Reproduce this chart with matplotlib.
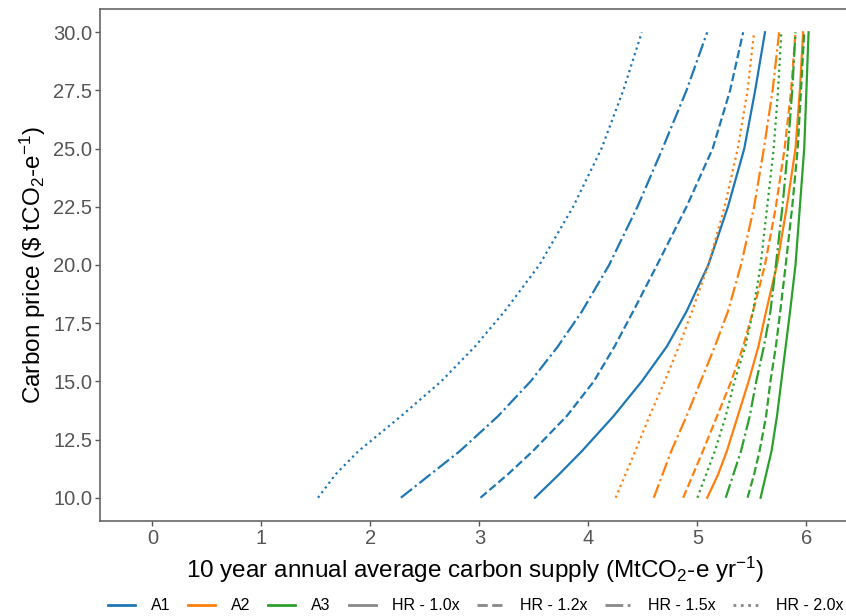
import matplotlib
matplotlib.use('Agg')
import matplotlib.pyplot as plt
from matplotlib.lines import Line2D

# carbon price levels ($ / tCO2-e)
price = [10, 11, 12, 13.5, 15, 16.5, 18, 20, 22.5, 25, 27.5, 30]

# 10 year annual average supply (MtCO2-e / yr)
a1_hr10 = [3.51, 3.73, 3.94, 4.23, 4.49, 4.72, 4.90, 5.10, 5.28, 5.43, 5.53, 5.62]
a1_hr12 = [3.01, 3.26, 3.49, 3.80, 4.05, 4.24, 4.41, 4.63, 4.90, 5.14, 5.30, 5.42]
a1_hr15 = [2.28, 2.55, 2.82, 3.17, 3.47, 3.72, 3.94, 4.19, 4.45, 4.68, 4.90, 5.09]
a1_hr20 = [1.52, 1.68, 1.89, 2.28, 2.65, 2.96, 3.23, 3.55, 3.86, 4.12, 4.32, 4.49]

a2_hr10 = [5.09, 5.19, 5.27, 5.37, 5.47, 5.56, 5.63, 5.73, 5.82, 5.90, 5.94, 5.97]
a2_hr12 = [4.87, 4.96, 5.05, 5.18, 5.31, 5.42, 5.51, 5.62, 5.72, 5.80, 5.86, 5.90]
a2_hr15 = [4.60, 4.68, 4.76, 4.90, 5.03, 5.16, 5.28, 5.40, 5.52, 5.61, 5.69, 5.75]
a2_hr20 = [4.25, 4.34, 4.43, 4.56, 4.70, 4.83, 4.95, 5.10, 5.25, 5.37, 5.46, 5.52]

a3_hr10 = [5.58, 5.63, 5.68, 5.73, 5.77, 5.81, 5.85, 5.90, 5.94, 5.98, 6.00, 6.02]
a3_hr12 = [5.46, 5.52, 5.57, 5.63, 5.67, 5.72, 5.76, 5.81, 5.87, 5.92, 5.95, 5.98]
a3_hr15 = [5.26, 5.33, 5.40, 5.48, 5.54, 5.61, 5.67, 5.72, 5.78, 5.83, 5.87, 5.90]
a3_hr20 = [5.00, 5.08, 5.16, 5.26, 5.34, 5.44, 5.51, 5.58, 5.64, 5.70, 5.74, 5.77]

areas = ['A1', 'A2', 'A3']
hr_labels = ['HR - 1.0x', 'HR - 1.2x', 'HR - 1.5x', 'HR - 2.0x']

colors = {'A1': '#1f77b4', 'A2': '#ff7f0e', 'A3': '#2ca02c'}
styles = ['-', '--', '-.', ':']

supply = {
    'A1': [a1_hr10, a1_hr12, a1_hr15, a1_hr20],
    'A2': [a2_hr10, a2_hr12, a2_hr15, a2_hr20],
    'A3': [a3_hr10, a3_hr12, a3_hr15, a3_hr20],
}

plt.rcParams['font.family'] = ['Liberation Sans', 'DejaVu Sans']
plt.rcParams['mathtext.fontset'] = 'custom'
plt.rcParams['mathtext.rm'] = 'Liberation Sans'
plt.rcParams['mathtext.it'] = 'Liberation Sans'

fig = plt.figure(figsize=(8.46, 6.16), dpi=100)
ax = fig.add_axes([100/846, 95/616, 750/846, 512/616])

for a in areas:
    for x, ls in zip(supply[a], styles):
        ax.plot(x, price, color=colors[a], ls=ls, lw=1.6)

ax.set_xlim(-0.48, 6.40)
ax.set_ylim(9, 31)
ax.set_xticks(range(0, 7))
ax.set_yticks([10, 12.5, 15, 17.5, 20, 22.5, 25, 27.5, 30])
ax.yaxis.set_major_formatter(matplotlib.ticker.FormatStrFormatter('%.1f'))
ax.tick_params(labelsize=14.5, colors='#555555', length=3.5, width=1, pad=2)
for sp in ax.spines.values():
    sp.set_color('#666666')
    sp.set_linewidth(1.2)

ax.set_xlabel('10 year annual average carbon supply (MtCO$_2$-e yr$^{-1}$)', fontsize=17.5, labelpad=5)
ax.set_ylabel('Carbon price (\\$ tCO$_2$-e$^{-1}$)', fontsize=17.5, labelpad=4)

handles = [Line2D([], [], color=colors[a], lw=2) for a in areas]
handles += [Line2D([], [], color='#888888', lw=2, ls=ls) for ls in styles]
fig.legend(handles, areas + hr_labels, loc='center', bbox_to_anchor=(476/846, 1 - 606/616),
           ncol=7, frameon=False, fontsize=11.5, handlelength=1.7, columnspacing=1.1,
           handletextpad=1.0, borderpad=0.1)

fig.savefig('out.png', dpi=100)
